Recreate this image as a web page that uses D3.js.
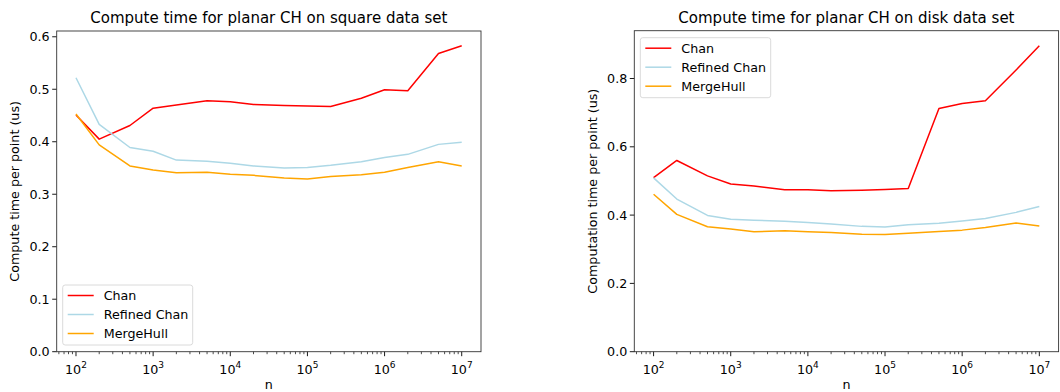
<!DOCTYPE html>
<html>
<head>
<meta charset="utf-8">
<script src="https://cdn.jsdelivr.net/npm/d3@7"></script>
<style>
  body { margin: 0; background: #fff; }
  svg { display: block; font-family: "DejaVu Sans", sans-serif; }
</style>
</head>
<body>
<svg id="chart" width="1060" height="392"></svg>
<script>
// problem sizes (x values)
var sizes = [1e2, 2e2, 5e2, 1e3, 2e3, 5e3, 1e4, 2e4, 5e4, 1e5, 2e5, 5e5, 1e6, 2e6, 5e6, 1e7];

// square data set
var squareChan    = [0.451, 0.405, 0.431, 0.464, 0.470, 0.478, 0.476, 0.471, 0.469, 0.468, 0.467, 0.483, 0.499, 0.497, 0.568, 0.583];
var squareRefined = [0.522, 0.433, 0.389, 0.382, 0.365, 0.363, 0.359, 0.354, 0.350, 0.351, 0.355, 0.362, 0.370, 0.376, 0.395, 0.399];
var squareMerge   = [0.453, 0.394, 0.354, 0.346, 0.341, 0.342, 0.338, 0.336, 0.331, 0.329, 0.334, 0.337, 0.342, 0.351, 0.362, 0.354];

// disk data set
var diskChan    = [0.510, 0.560, 0.515, 0.491, 0.485, 0.474, 0.474, 0.471, 0.473, 0.475, 0.478, 0.712, 0.727, 0.735, 0.825, 0.896];
var diskRefined = [0.509, 0.447, 0.399, 0.388, 0.385, 0.382, 0.378, 0.374, 0.367, 0.365, 0.372, 0.376, 0.383, 0.390, 0.408, 0.425];
var diskMerge   = [0.461, 0.402, 0.366, 0.359, 0.351, 0.354, 0.351, 0.349, 0.344, 0.343, 0.347, 0.352, 0.356, 0.364, 0.377, 0.368];

var seriesNames = ["Chan", "Refined Chan", "MergeHull"];
var seriesColors = ["#ff0000", "#add8e6", "#ffa500"];

var squareYTicks = [0.0, 0.1, 0.2, 0.3, 0.4, 0.5, 0.6];
var diskYTicks = [0.0, 0.2, 0.4, 0.6, 0.8];
var xDecades = [2, 3, 4, 5, 6, 7];

var svg = d3.select("#chart");
var fs = 12.7; // tick / label font size

function drawPanel(opt) {
    var g = svg.append("g");
    var x = d3.scaleLog()
        .domain([Math.pow(10, 1.75), Math.pow(10, 7.25)])
        .range([opt.left, opt.right]);
    var y = d3.scaleLinear()
        .domain([0, opt.ymax])
        .range([opt.bottom, opt.top]);

    // minor ticks
    var minors = [];
    for (var e = 1; e <= 7; e++) {
        for (var m = 2; m <= 9; m++) {
            var v = m * Math.pow(10, e);
            if (v >= x.domain()[0] && v <= x.domain()[1]) minors.push(v);
        }
    }
    g.selectAll(".minor").data(minors).enter().append("line")
        .attr("x1", d => x(d)).attr("x2", d => x(d))
        .attr("y1", opt.bottom).attr("y2", opt.bottom + 2.5)
        .attr("stroke", "#000").attr("stroke-width", 0.7);

    // major x ticks
    var xt = g.selectAll(".xt").data(xDecades).enter().append("g")
        .attr("transform", d => "translate(" + x(Math.pow(10, d)) + "," + opt.bottom + ")");
    xt.append("line").attr("y2", 4.5).attr("stroke", "#000").attr("stroke-width", 0.9);
    var xl = xt.append("text")
        .attr("y", 22).attr("text-anchor", "middle")
        .attr("font-size", fs).attr("fill", "#000");
    xl.append("tspan").text("10");
    xl.append("tspan").attr("dy", -5.5).attr("font-size", 9).text(d => d);

    // y ticks
    var yt = g.selectAll(".yt").data(opt.yticks).enter().append("g")
        .attr("transform", d => "translate(" + opt.left + "," + y(d) + ")");
    yt.append("line").attr("x2", -4.5).attr("stroke", "#000").attr("stroke-width", 0.9);
    yt.append("text").attr("x", -7).attr("dy", "0.35em")
        .attr("text-anchor", "end").attr("font-size", fs).attr("fill", "#000")
        .text(d => d.toFixed(1));

    // lines
    var line = d3.line()
        .x((d, i) => x(sizes[i]))
        .y(d => y(d));
    opt.series.forEach(function (s, i) {
        g.append("path")
            .attr("d", line(s))
            .attr("fill", "none")
            .attr("stroke", seriesColors[i])
            .attr("stroke-width", 1.5)
            .attr("stroke-linejoin", "round");
    });

    // frame
    g.append("rect")
        .attr("x", opt.left).attr("y", opt.top)
        .attr("width", opt.right - opt.left).attr("height", opt.bottom - opt.top)
        .attr("fill", "none").attr("stroke", "#333").attr("stroke-width", 0.9);

    // title and labels
    g.append("text")
        .attr("x", (opt.left + opt.right) / 2).attr("y", 23)
        .attr("text-anchor", "middle").attr("font-size", 15)
        .text(opt.title);
    g.append("text")
        .attr("x", (opt.left + opt.right) / 2).attr("y", 389)
        .attr("text-anchor", "middle").attr("font-size", fs)
        .text("n");
    g.append("text")
        .attr("transform", "translate(" + opt.ylabelX + "," + ((opt.top + opt.bottom) / 2) + ") rotate(-90)")
        .attr("text-anchor", "middle").attr("dy", "0.35em").attr("font-size", fs)
        .text(opt.ylabel);

    // legend
    var lg = g.append("g").attr("transform", "translate(" + opt.legend[0] + "," + opt.legend[1] + ")");
    lg.append("rect")
        .attr("width", opt.legendW).attr("height", 60).attr("rx", 2.5)
        .attr("fill", "#fff").attr("fill-opacity", 0.8)
        .attr("stroke", "#d6d6d6").attr("stroke-width", 0.9);
    seriesNames.forEach(function (name, i) {
        var yy = 10.5 + i * 19;
        lg.append("line")
            .attr("x1", 5).attr("x2", 31).attr("y1", yy).attr("y2", yy)
            .attr("stroke", seriesColors[i]).attr("stroke-width", 1.5);
        lg.append("text")
            .attr("x", 41).attr("y", yy).attr("dy", "0.35em")
            .attr("font-size", fs).text(name);
    });
}

drawPanel({
    left: 56.7, right: 481, top: 31, bottom: 351.7, ymax: 0.611,
    yticks: squareYTicks,
    series: [squareChan, squareRefined, squareMerge],
    title: "Compute time for planar CH on square data set",
    ylabel: "Compute time per point (us)", ylabelX: 15,
    legend: [62.7, 285], legendW: 130
});

drawPanel({
    left: 634.3, right: 1058.6, top: 30.7, bottom: 351.7, ymax: 0.94,
    yticks: diskYTicks,
    series: [diskChan, diskRefined, diskMerge],
    title: "Compute time for planar CH on disk data set",
    ylabel: "Computation time per point (us)", ylabelX: 593,
    legend: [640.3, 37.7], legendW: 130.4
});
</script>
</body>
</html>
